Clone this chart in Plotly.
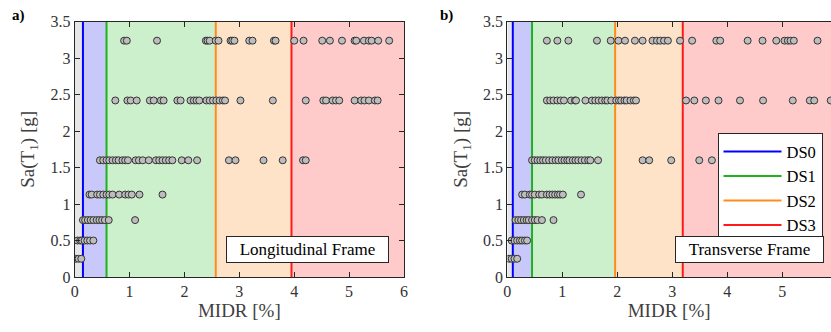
import plotly.graph_objects as go

# ---------------- data ----------------
sa_levels = [0.25, 0.50, 0.78, 1.13, 1.60, 2.42, 3.24]

long_midr = {
    0.25: [0.02, 0.07, 0.12],
    0.50: [0.05, 0.10, 0.13, 0.18, 0.23, 0.28, 0.34],
    0.78: [0.15, 0.19, 0.24, 0.29, 0.34, 0.40, 0.45, 0.50, 0.55, 0.62, 1.10],
    1.13: [0.27, 0.31, 0.41, 0.46, 0.52, 0.58, 0.63, 0.69, 0.81, 0.92, 0.98, 1.04, 1.18, 1.60],
    1.60: [0.46, 0.52, 0.58, 0.63, 0.69, 0.75, 0.80, 0.87, 0.92, 0.97, 1.11, 1.17, 1.24, 1.35,
           1.48, 1.54, 1.60, 1.66, 1.72, 1.78, 1.95, 2.07, 2.23, 2.81, 2.93, 3.44, 3.79, 4.16, 4.21],
    2.42: [0.74, 0.96, 1.02, 1.13, 1.37, 1.44, 1.57, 1.62, 1.87, 1.93, 2.11, 2.17, 2.22, 2.27,
           2.40, 2.46, 2.52, 2.58, 2.64, 2.70, 2.74, 3.02, 3.61, 4.21, 4.53, 4.58, 4.70, 4.76,
           4.82, 5.10, 5.22, 5.28, 5.36, 5.47, 5.52],
    3.24: [0.90, 0.95, 1.50, 2.39, 2.42, 2.46, 2.57, 2.62, 2.84, 2.87, 2.91, 3.18, 3.24, 3.63,
           3.66, 4.00, 4.17, 4.51, 4.65, 4.87, 5.10, 5.13, 5.27, 5.36, 5.41, 5.53, 5.73],
}

trans_midr = {
    0.25: [0.03, 0.08, 0.13, 0.18],
    0.50: [0.08, 0.13, 0.18, 0.23, 0.27, 0.32, 0.36],
    0.78: [0.15, 0.20, 0.25, 0.30, 0.35, 0.39, 0.45, 0.50, 0.55, 0.63, 0.84],
    1.13: [0.27, 0.32, 0.41, 0.45, 0.50, 0.58, 0.63, 0.72, 0.77, 0.82, 0.87, 0.92, 0.96, 1.01, 1.34],
    1.60: [0.45, 0.50, 0.55, 0.60, 0.65, 0.70, 0.76, 0.82, 0.88, 0.93, 0.99, 1.04, 1.09, 1.13,
           1.19, 1.24, 1.29, 1.35, 1.41, 1.47, 1.51, 1.65, 2.46, 2.58, 2.98, 3.49, 3.72],
    2.42: [0.72, 0.78, 0.84, 0.91, 0.97, 1.03, 1.16, 1.23, 1.25, 1.42, 1.54, 1.60, 1.66, 1.72,
           1.78, 1.82, 1.89, 1.98, 2.03, 2.07, 2.13, 2.17, 2.24, 2.30, 2.34, 3.25, 3.40, 3.61,
           3.84, 4.23, 4.65, 5.19, 5.50, 5.58, 5.88],
    3.24: [0.72, 0.91, 1.11, 1.63, 1.88, 2.02, 2.14, 2.32, 2.46, 2.64, 2.72, 2.78, 2.85, 2.92,
           3.14, 3.36, 3.80, 3.87, 4.37, 4.64, 4.89, 5.04, 5.10, 5.15, 5.21, 5.64],
}

ds_names = ["DS0", "DS1", "DS2", "DS3"]
long_thresholds = [0.15, 0.58, 2.57, 3.95]
trans_thresholds = [0.10, 0.45, 1.96, 3.19]

ds_line_colors = ["#0000ff", "#1db31d", "#ff8c1a", "#ff1a1a"]
zone_colors = ["#e6e6e6", "#c8c8fa", "#ccf0cc", "#ffe3c8", "#ffcaca"]

long_xmax = 6.0
trans_xmax = 5.885
ymax = 3.5

FONT = "Liberation Serif"
AXC = "#262626"

fig = go.Figure()

shapes = []


def add_panel(midr, thresholds, xmax, xa, ya, show_legend):
    # shaded damage zones
    edges = [0.0] + thresholds + [xmax]
    for i in range(len(edges) - 1):
        shapes.append(dict(type="rect", xref=xa, yref=ya, x0=edges[i], x1=edges[i + 1],
                           y0=0, y1=ymax, fillcolor=zone_colors[i], line_width=0, layer="below"))
    # threshold lines
    for name, t, c in zip(ds_names, thresholds, ds_line_colors):
        fig.add_trace(go.Scatter(x=[t, t], y=[0, ymax], mode="lines", name=name,
                                 line=dict(color=c, width=2), xaxis=xa, yaxis=ya,
                                 showlegend=show_legend, hoverinfo="skip"))
    # data points
    xs, ys = [], []
    for lvl in sa_levels:
        for v in midr[lvl]:
            xs.append(v)
            ys.append(lvl)
    fig.add_trace(go.Scatter(x=xs, y=ys, mode="markers", xaxis=xa, yaxis=ya, showlegend=False,
                             marker=dict(size=7, color="#bdbdbd",
                                         line=dict(color="#333333", width=1))))


add_panel(long_midr, long_thresholds, long_xmax, "x", "y", False)
add_panel(trans_midr, trans_thresholds, trans_xmax, "x2", "y2", True)

W, H = 831, 332
ydom = [(332 - 277) / H, (332 - 21.7) / H]

axis_common = dict(showgrid=False, zeroline=False, showline=True, linecolor=AXC, linewidth=1,
                   ticks="inside", ticklen=5, tickcolor=AXC,
                   tickfont=dict(family=FONT, size=16, color="#333333"))

title_font = dict(family=FONT, size=19, color="#404040")

fig.update_layout(
    width=W, height=H,
    margin=dict(l=0, r=0, t=0, b=0),
    paper_bgcolor="white", plot_bgcolor="white",
    shapes=shapes,
    xaxis=dict(domain=[74.7 / W, 404 / W], range=[0, long_xmax], anchor="y",
               tickvals=[0, 1, 2, 3, 4, 5, 6], mirror="ticks",
               title=dict(text="MIDR [%]", font=title_font, standoff=4), **axis_common),
    yaxis=dict(domain=ydom, range=[0, ymax], anchor="x",
               tickvals=[0, 0.5, 1, 1.5, 2, 2.5, 3, 3.5], ticktext=["0", "0.5", "1", "1.5", "2", "2.5", "3", "3.5"],
               mirror="ticks",
               title=dict(text="Sa(T<sub>1</sub>) [g]", font=title_font, standoff=10), **axis_common),
    xaxis2=dict(domain=[507.3 / W, 1.0], range=[0, trans_xmax], anchor="y2",
                tickvals=[0, 1, 2, 3, 4, 5], mirror="ticks",
                title=dict(text="MIDR [%]", font=title_font, standoff=4), **axis_common),
    yaxis2=dict(domain=ydom, range=[0, ymax], anchor="x2",
                tickvals=[0, 0.5, 1, 1.5, 2, 2.5, 3, 3.5], ticktext=["0", "0.5", "1", "1.5", "2", "2.5", "3", "3.5"],
                mirror=False,
                title=dict(text="Sa(T<sub>1</sub>) [g]", font=title_font, standoff=10), **axis_common),
    legend=dict(x=717.5 / W, y=1 - 133.3 / H, xanchor="left", yanchor="top",
                bgcolor="white", bordercolor=AXC, borderwidth=1, itemwidth=58,
                font=dict(family=FONT, size=16.5, color="black")),
    showlegend=True,
)

fig.update_xaxes(automargin=False)
fig.update_yaxes(automargin=False)

annots = [
    dict(text="<b>a)</b>", x=10 / W, y=1 - 15 / H, xref="paper", yref="paper",
         xanchor="left", yanchor="middle", showarrow=False, font=dict(family=FONT, size=15, color="black")),
    dict(text="<b>b)</b>", x=438 / W, y=1 - 15 / H, xref="paper", yref="paper",
         xanchor="left", yanchor="middle", showarrow=False, font=dict(family=FONT, size=15, color="black")),
    dict(text="Longitudinal Frame", x=307.3 / W, y=1 - 249 / H, xref="paper", yref="paper",
         xanchor="center", yanchor="middle", showarrow=False, bgcolor="white",
         bordercolor=AXC, borderwidth=1, borderpad=3, width=155,
         font=dict(family=FONT, size=17, color="black")),
    dict(text="Transverse Frame", x=749 / W, y=1 - 249 / H, xref="paper", yref="paper",
         xanchor="center", yanchor="middle", showarrow=False, bgcolor="white",
         bordercolor=AXC, borderwidth=1, borderpad=3, width=141,
         font=dict(family=FONT, size=17, color="black")),
]
fig.update_layout(annotations=annots)

fig.write_html("out.html")
